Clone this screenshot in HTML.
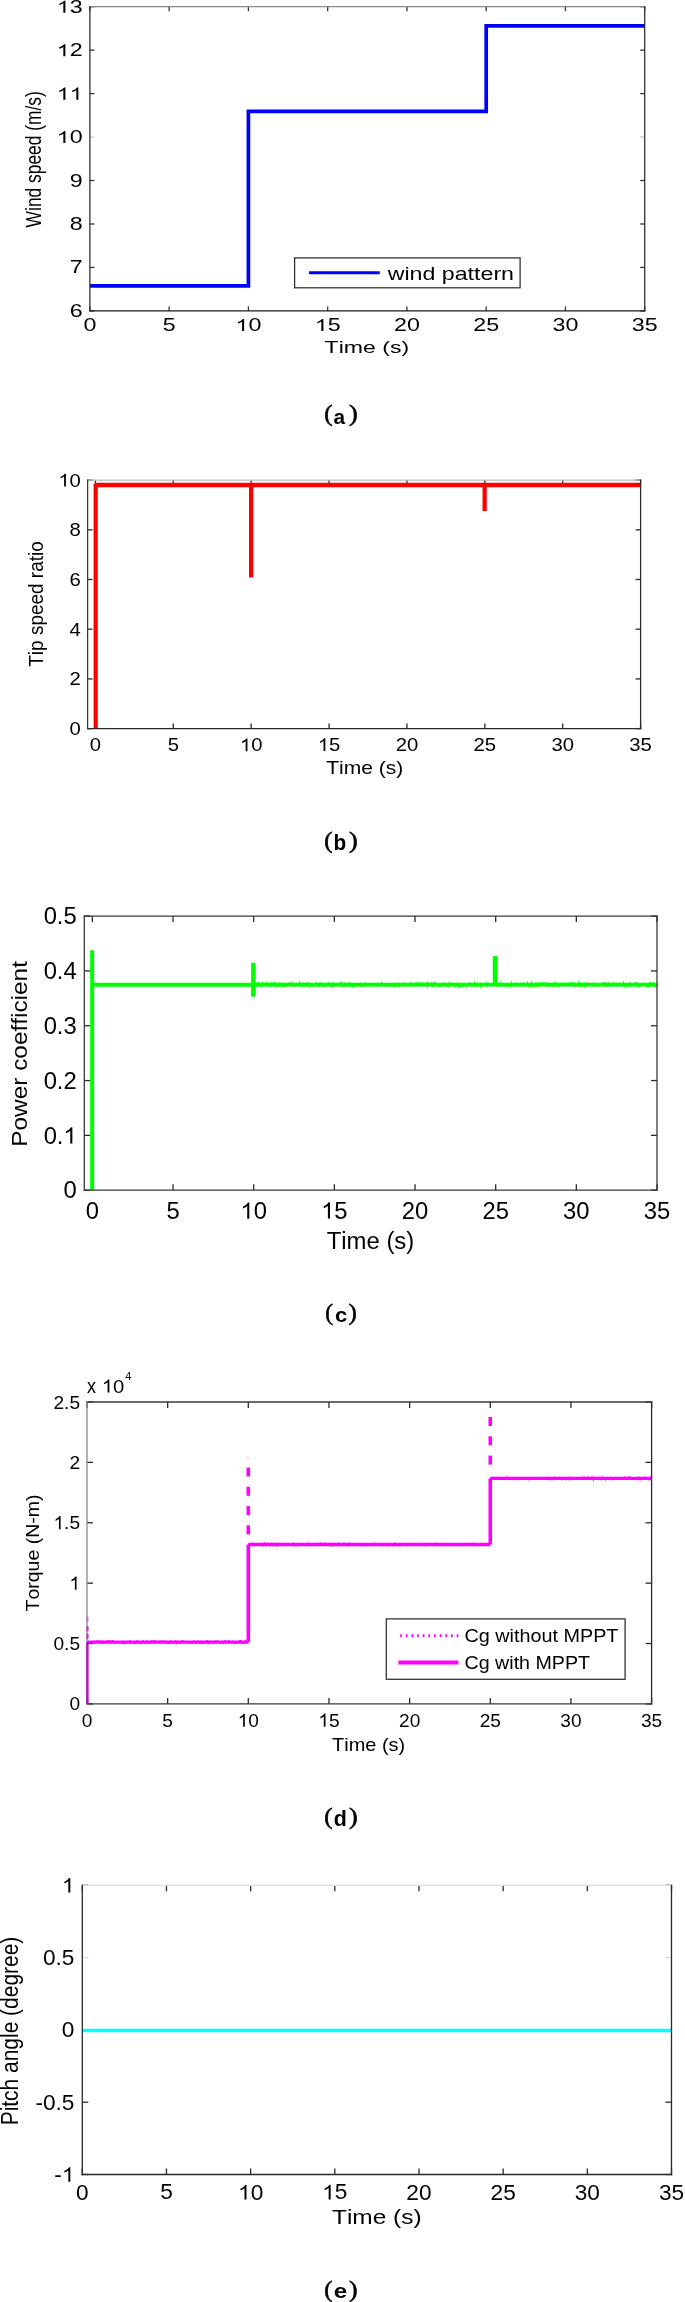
<!DOCTYPE html>
<html><head><meta charset="utf-8"><style>
html,body{margin:0;padding:0;background:#fff;}
body{width:685px;height:2302px;overflow:hidden;font-family:"Liberation Sans",sans-serif;}
svg{display:block;will-change:transform;}
text{font-kerning:none;}
</style></head><body>
<svg width="685" height="2302" viewBox="0 0 685 2302">
<g>
<line x1="89.9" y1="310.9" x2="89.9" y2="306.4" stroke="#333" stroke-width="1.3"/>
<line x1="89.9" y1="6.7" x2="89.9" y2="11.2" stroke="#333" stroke-width="1.3"/>
<line x1="169.16" y1="310.9" x2="169.16" y2="306.4" stroke="#333" stroke-width="1.3"/>
<line x1="169.16" y1="6.7" x2="169.16" y2="11.2" stroke="#333" stroke-width="1.3"/>
<line x1="248.41" y1="310.9" x2="248.41" y2="306.4" stroke="#333" stroke-width="1.3"/>
<line x1="248.41" y1="6.7" x2="248.41" y2="11.2" stroke="#333" stroke-width="1.3"/>
<line x1="327.67" y1="310.9" x2="327.67" y2="306.4" stroke="#333" stroke-width="1.3"/>
<line x1="327.67" y1="6.7" x2="327.67" y2="11.2" stroke="#333" stroke-width="1.3"/>
<line x1="406.93" y1="310.9" x2="406.93" y2="306.4" stroke="#333" stroke-width="1.3"/>
<line x1="406.93" y1="6.7" x2="406.93" y2="11.2" stroke="#333" stroke-width="1.3"/>
<line x1="486.19" y1="310.9" x2="486.19" y2="306.4" stroke="#333" stroke-width="1.3"/>
<line x1="486.19" y1="6.7" x2="486.19" y2="11.2" stroke="#333" stroke-width="1.3"/>
<line x1="565.44" y1="310.9" x2="565.44" y2="306.4" stroke="#333" stroke-width="1.3"/>
<line x1="565.44" y1="6.7" x2="565.44" y2="11.2" stroke="#333" stroke-width="1.3"/>
<line x1="644.7" y1="310.9" x2="644.7" y2="306.4" stroke="#333" stroke-width="1.3"/>
<line x1="644.7" y1="6.7" x2="644.7" y2="11.2" stroke="#333" stroke-width="1.3"/>
<line x1="89.9" y1="310.9" x2="94.4" y2="310.9" stroke="#333" stroke-width="1.3"/>
<line x1="644.7" y1="310.9" x2="640.2" y2="310.9" stroke="#333" stroke-width="1.3"/>
<line x1="89.9" y1="267.44" x2="94.4" y2="267.44" stroke="#333" stroke-width="1.3"/>
<line x1="644.7" y1="267.44" x2="640.2" y2="267.44" stroke="#333" stroke-width="1.3"/>
<line x1="89.9" y1="223.99" x2="94.4" y2="223.99" stroke="#333" stroke-width="1.3"/>
<line x1="644.7" y1="223.99" x2="640.2" y2="223.99" stroke="#333" stroke-width="1.3"/>
<line x1="89.9" y1="180.53" x2="94.4" y2="180.53" stroke="#333" stroke-width="1.3"/>
<line x1="644.7" y1="180.53" x2="640.2" y2="180.53" stroke="#333" stroke-width="1.3"/>
<line x1="89.9" y1="137.07" x2="94.4" y2="137.07" stroke="#c8c8c8" stroke-width="1.3"/>
<line x1="644.7" y1="137.07" x2="640.2" y2="137.07" stroke="#c8c8c8" stroke-width="1.3"/>
<line x1="89.9" y1="93.61" x2="94.4" y2="93.61" stroke="#333" stroke-width="1.3"/>
<line x1="644.7" y1="93.61" x2="640.2" y2="93.61" stroke="#333" stroke-width="1.3"/>
<line x1="89.9" y1="50.16" x2="94.4" y2="50.16" stroke="#333" stroke-width="1.3"/>
<line x1="644.7" y1="50.16" x2="640.2" y2="50.16" stroke="#333" stroke-width="1.3"/>
<line x1="89.9" y1="6.7" x2="94.4" y2="6.7" stroke="#333" stroke-width="1.3"/>
<line x1="644.7" y1="6.7" x2="640.2" y2="6.7" stroke="#333" stroke-width="1.3"/>
<path d="M89.9,285.91 H248.41 V111.43 H486.19 V25.82 H644.7" fill="none" stroke="#0000ff" stroke-width="3.7" stroke-linejoin="miter"/>
<line x1="89.9" y1="6.7" x2="644.7" y2="6.7" stroke="#888" stroke-width="1.3" stroke-linecap="square"/>
<line x1="644.7" y1="6.7" x2="644.7" y2="310.9" stroke="#333" stroke-width="1.3" stroke-linecap="square"/>
<line x1="89.9" y1="310.9" x2="644.7" y2="310.9" stroke="#1c1c1c" stroke-width="1.3" stroke-linecap="square"/>
<line x1="89.9" y1="6.7" x2="89.9" y2="310.9" stroke="#333" stroke-width="1.3" stroke-linecap="square"/>
<g transform="matrix(1.3300 0 0 1.0000 69.66 316.92)"><text font-family='"Liberation Sans", sans-serif' font-weight="normal" font-size="17.5" fill="#000">6</text></g>
<g transform="matrix(1.3300 0 0 1.0000 69.66 273.46)"><text font-family='"Liberation Sans", sans-serif' font-weight="normal" font-size="17.5" fill="#000">7</text></g>
<g transform="matrix(1.3300 0 0 1.0000 69.66 230.01)"><text font-family='"Liberation Sans", sans-serif' font-weight="normal" font-size="17.5" fill="#000">8</text></g>
<g transform="matrix(1.3300 0 0 1.0000 69.66 186.55)"><text font-family='"Liberation Sans", sans-serif' font-weight="normal" font-size="17.5" fill="#000">9</text></g>
<g transform="matrix(1.3300 0 0 1.0000 56.72 143.1)"><text font-family='"Liberation Sans", sans-serif' font-weight="normal" font-size="17.5" fill="#000"> 0</text><path transform="matrix(0.00854 0 0 -0.00818 0 0)" d="M763 0H583V1147Q518 1085 412 1023Q306 961 222 930V1104Q373 1175 486 1276Q599 1377 646 1472H763Z" fill="#000"/></g>
<g transform="matrix(1.3300 0 0 1.0000 56.72 99.63)"><text font-family='"Liberation Sans", sans-serif' font-weight="normal" font-size="17.5" fill="#000">  </text><path transform="matrix(0.00854 0 0 -0.00818 0 0)" d="M763 0H583V1147Q518 1085 412 1023Q306 961 222 930V1104Q373 1175 486 1276Q599 1377 646 1472H763Z" fill="#000"/><path transform="matrix(0.00854 0 0 -0.00818 9.73 0)" d="M763 0H583V1147Q518 1085 412 1023Q306 961 222 930V1104Q373 1175 486 1276Q599 1377 646 1472H763Z" fill="#000"/></g>
<g transform="matrix(1.3300 0 0 1.0000 56.72 56.27)"><text font-family='"Liberation Sans", sans-serif' font-weight="normal" font-size="17.5" fill="#000"> 2</text><path transform="matrix(0.00854 0 0 -0.00818 0 0)" d="M763 0H583V1147Q518 1085 412 1023Q306 961 222 930V1104Q373 1175 486 1276Q599 1377 646 1472H763Z" fill="#000"/></g>
<g transform="matrix(1.3300 0 0 1.0000 56.72 12.72)"><text font-family='"Liberation Sans", sans-serif' font-weight="normal" font-size="17.5" fill="#000"> 3</text><path transform="matrix(0.00854 0 0 -0.00818 0 0)" d="M763 0H583V1147Q518 1085 412 1023Q306 961 222 930V1104Q373 1175 486 1276Q599 1377 646 1472H763Z" fill="#000"/></g>
<g transform="matrix(1.3300 0 0 1.0000 83.43 331.12)"><text font-family='"Liberation Sans", sans-serif' font-weight="normal" font-size="17.5" fill="#000">0</text></g>
<g transform="matrix(1.3300 0 0 1.0000 162.68 330.94)"><text font-family='"Liberation Sans", sans-serif' font-weight="normal" font-size="17.5" fill="#000">5</text></g>
<g transform="matrix(1.3300 0 0 1.0000 235.47 331.12)"><text font-family='"Liberation Sans", sans-serif' font-weight="normal" font-size="17.5" fill="#000"> 0</text><path transform="matrix(0.00854 0 0 -0.00818 0 0)" d="M763 0H583V1147Q518 1085 412 1023Q306 961 222 930V1104Q373 1175 486 1276Q599 1377 646 1472H763Z" fill="#000"/></g>
<g transform="matrix(1.3300 0 0 1.0000 314.73 330.94)"><text font-family='"Liberation Sans", sans-serif' font-weight="normal" font-size="17.5" fill="#000"> 5</text><path transform="matrix(0.00854 0 0 -0.00818 0 0)" d="M763 0H583V1147Q518 1085 412 1023Q306 961 222 930V1104Q373 1175 486 1276Q599 1377 646 1472H763Z" fill="#000"/></g>
<g transform="matrix(1.3300 0 0 1.0000 393.98 331.12)"><text font-family='"Liberation Sans", sans-serif' font-weight="normal" font-size="17.5" fill="#000">20</text></g>
<g transform="matrix(1.3300 0 0 1.0000 473.24 331.12)"><text font-family='"Liberation Sans", sans-serif' font-weight="normal" font-size="17.5" fill="#000">25</text></g>
<g transform="matrix(1.3300 0 0 1.0000 552.5 331.12)"><text font-family='"Liberation Sans", sans-serif' font-weight="normal" font-size="17.5" fill="#000">30</text></g>
<g transform="matrix(1.3300 0 0 1.0000 631.76 331.12)"><text font-family='"Liberation Sans", sans-serif' font-weight="normal" font-size="17.5" fill="#000">35</text></g>
<rect x="294.6" y="257.9" width="225.5" height="29.9" fill="#fff" stroke="#333" stroke-width="1.3"/>
<line x1="309" y1="272.8" x2="379.8" y2="272.8" stroke="#0000ff" stroke-width="3"/>
<g transform="matrix(0.23216 0.00000 0.00000 0.18023 387.63 279.66)"><text font-family='"Liberation Sans", sans-serif' font-weight="normal" font-size="100" fill="#000">wind pattern</text></g>
<g transform="matrix(0.23091 0.00000 0.00000 0.16745 324.58 353.03)"><text font-family='"Liberation Sans", sans-serif' font-weight="normal" font-size="100" fill="#000">Time (s)</text></g>
<g transform="matrix(0.00000 -0.17390 0.22958 0.00000 41.44 227.38)"><text font-family='"Liberation Sans", sans-serif' font-weight="normal" font-size="100" fill="#000">Wind speed (m/s)</text></g>
<line x1="95.39" y1="728.6" x2="95.39" y2="723.6" stroke="#2a2a2a" stroke-width="1.3"/>
<line x1="95.39" y1="480.1" x2="95.39" y2="485.1" stroke="#2a2a2a" stroke-width="1.3"/>
<line x1="173.28" y1="728.6" x2="173.28" y2="723.6" stroke="#2a2a2a" stroke-width="1.3"/>
<line x1="173.28" y1="480.1" x2="173.28" y2="485.1" stroke="#2a2a2a" stroke-width="1.3"/>
<line x1="251.16" y1="728.6" x2="251.16" y2="723.6" stroke="#2a2a2a" stroke-width="1.3"/>
<line x1="251.16" y1="480.1" x2="251.16" y2="485.1" stroke="#2a2a2a" stroke-width="1.3"/>
<line x1="329.05" y1="728.6" x2="329.05" y2="723.6" stroke="#2a2a2a" stroke-width="1.3"/>
<line x1="329.05" y1="480.1" x2="329.05" y2="485.1" stroke="#2a2a2a" stroke-width="1.3"/>
<line x1="406.94" y1="728.6" x2="406.94" y2="723.6" stroke="#2a2a2a" stroke-width="1.3"/>
<line x1="406.94" y1="480.1" x2="406.94" y2="485.1" stroke="#2a2a2a" stroke-width="1.3"/>
<line x1="484.83" y1="728.6" x2="484.83" y2="723.6" stroke="#2a2a2a" stroke-width="1.3"/>
<line x1="484.83" y1="480.1" x2="484.83" y2="485.1" stroke="#2a2a2a" stroke-width="1.3"/>
<line x1="562.71" y1="728.6" x2="562.71" y2="723.6" stroke="#2a2a2a" stroke-width="1.3"/>
<line x1="562.71" y1="480.1" x2="562.71" y2="485.1" stroke="#2a2a2a" stroke-width="1.3"/>
<line x1="640.6" y1="728.6" x2="640.6" y2="723.6" stroke="#2a2a2a" stroke-width="1.3"/>
<line x1="640.6" y1="480.1" x2="640.6" y2="485.1" stroke="#2a2a2a" stroke-width="1.3"/>
<line x1="87.6" y1="728.6" x2="92.6" y2="728.6" stroke="#2a2a2a" stroke-width="1.3"/>
<line x1="640.6" y1="728.6" x2="635.6" y2="728.6" stroke="#2a2a2a" stroke-width="1.3"/>
<line x1="87.6" y1="678.9" x2="92.6" y2="678.9" stroke="#2a2a2a" stroke-width="1.3"/>
<line x1="640.6" y1="678.9" x2="635.6" y2="678.9" stroke="#2a2a2a" stroke-width="1.3"/>
<line x1="87.6" y1="629.2" x2="92.6" y2="629.2" stroke="#2a2a2a" stroke-width="1.3"/>
<line x1="640.6" y1="629.2" x2="635.6" y2="629.2" stroke="#2a2a2a" stroke-width="1.3"/>
<line x1="87.6" y1="579.5" x2="92.6" y2="579.5" stroke="#2a2a2a" stroke-width="1.3"/>
<line x1="640.6" y1="579.5" x2="635.6" y2="579.5" stroke="#2a2a2a" stroke-width="1.3"/>
<line x1="87.6" y1="529.8" x2="92.6" y2="529.8" stroke="#2a2a2a" stroke-width="1.3"/>
<line x1="640.6" y1="529.8" x2="635.6" y2="529.8" stroke="#2a2a2a" stroke-width="1.3"/>
<line x1="87.6" y1="480.1" x2="92.6" y2="480.1" stroke="#2a2a2a" stroke-width="1.3"/>
<line x1="640.6" y1="480.1" x2="635.6" y2="480.1" stroke="#2a2a2a" stroke-width="1.3"/>
<path d="M95.7,728.6 V483.69" fill="none" stroke="#ff0000" stroke-width="4.2"/>
<path d="M95.39,485.05 H640.6" fill="none" stroke="#ff0000" stroke-width="4.4"/>
<path d="M251.16,485.69 V577.51" fill="none" stroke="#ff0000" stroke-width="4.3"/>
<path d="M484.63,485.69 V511.04" fill="none" stroke="#ff0000" stroke-width="4.2"/>
<line x1="87.6" y1="480.1" x2="640.6" y2="480.1" stroke="#bbb" stroke-width="1.3" stroke-linecap="square"/>
<line x1="640.6" y1="480.1" x2="640.6" y2="728.6" stroke="#2a2a2a" stroke-width="1.3" stroke-linecap="square"/>
<line x1="87.6" y1="728.6" x2="640.6" y2="728.6" stroke="#2a2a2a" stroke-width="1.3" stroke-linecap="square"/>
<line x1="87.6" y1="480.1" x2="87.6" y2="728.6" stroke="#3a3a3a" stroke-width="1.3" stroke-linecap="square"/>
<g transform="matrix(1.0900 0 0 1.0000 69.62 735)"><text font-family='"Liberation Sans", sans-serif' font-weight="normal" font-size="18.6" fill="#000">0</text></g>
<g transform="matrix(1.0900 0 0 1.0000 69.62 685.39)"><text font-family='"Liberation Sans", sans-serif' font-weight="normal" font-size="18.6" fill="#000">2</text></g>
<g transform="matrix(1.0900 0 0 1.0000 69.62 635.6)"><text font-family='"Liberation Sans", sans-serif' font-weight="normal" font-size="18.6" fill="#000">4</text></g>
<g transform="matrix(1.0900 0 0 1.0000 69.62 585.9)"><text font-family='"Liberation Sans", sans-serif' font-weight="normal" font-size="18.6" fill="#000">6</text></g>
<g transform="matrix(1.0900 0 0 1.0000 69.62 536.2)"><text font-family='"Liberation Sans", sans-serif' font-weight="normal" font-size="18.6" fill="#000">8</text></g>
<g transform="matrix(1.0900 0 0 1.0000 58.34 486.5)"><text font-family='"Liberation Sans", sans-serif' font-weight="normal" font-size="18.6" fill="#000"> 0</text><path transform="matrix(0.00908 0 0 -0.00869 0 0)" d="M763 0H583V1147Q518 1085 412 1023Q306 961 222 930V1104Q373 1175 486 1276Q599 1377 646 1472H763Z" fill="#000"/></g>
<g transform="matrix(1.0900 0 0 1.0000 89.75 751.19)"><text font-family='"Liberation Sans", sans-serif' font-weight="normal" font-size="18.6" fill="#000">0</text></g>
<g transform="matrix(1.0900 0 0 1.0000 167.64 751)"><text font-family='"Liberation Sans", sans-serif' font-weight="normal" font-size="18.6" fill="#000">5</text></g>
<g transform="matrix(1.0900 0 0 1.0000 239.89 751.19)"><text font-family='"Liberation Sans", sans-serif' font-weight="normal" font-size="18.6" fill="#000"> 0</text><path transform="matrix(0.00908 0 0 -0.00869 0 0)" d="M763 0H583V1147Q518 1085 412 1023Q306 961 222 930V1104Q373 1175 486 1276Q599 1377 646 1472H763Z" fill="#000"/></g>
<g transform="matrix(1.0900 0 0 1.0000 317.78 751)"><text font-family='"Liberation Sans", sans-serif' font-weight="normal" font-size="18.6" fill="#000"> 5</text><path transform="matrix(0.00908 0 0 -0.00869 0 0)" d="M763 0H583V1147Q518 1085 412 1023Q306 961 222 930V1104Q373 1175 486 1276Q599 1377 646 1472H763Z" fill="#000"/></g>
<g transform="matrix(1.0900 0 0 1.0000 395.66 751.19)"><text font-family='"Liberation Sans", sans-serif' font-weight="normal" font-size="18.6" fill="#000">20</text></g>
<g transform="matrix(1.0900 0 0 1.0000 473.55 751.19)"><text font-family='"Liberation Sans", sans-serif' font-weight="normal" font-size="18.6" fill="#000">25</text></g>
<g transform="matrix(1.0900 0 0 1.0000 551.44 751.19)"><text font-family='"Liberation Sans", sans-serif' font-weight="normal" font-size="18.6" fill="#000">30</text></g>
<g transform="matrix(1.0900 0 0 1.0000 629.32 751.19)"><text font-family='"Liberation Sans", sans-serif' font-weight="normal" font-size="18.6" fill="#000">35</text></g>
<g transform="matrix(0.21052 0.00000 0.00000 0.17496 326.13 773.78)"><text font-family='"Liberation Sans", sans-serif' font-weight="normal" font-size="100" fill="#000">Time (s)</text></g>
<g transform="matrix(0.00000 -0.18976 0.19954 0.00000 43.26 666.73)"><text font-family='"Liberation Sans", sans-serif' font-weight="normal" font-size="100" fill="#000">Tip speed ratio</text></g>
<line x1="92.37" y1="1190.2" x2="92.37" y2="1184.2" stroke="#2a2a2a" stroke-width="1.3"/>
<line x1="92.37" y1="916.1" x2="92.37" y2="922.1" stroke="#2a2a2a" stroke-width="1.3"/>
<line x1="173.03" y1="1190.2" x2="173.03" y2="1184.2" stroke="#2a2a2a" stroke-width="1.3"/>
<line x1="173.03" y1="916.1" x2="173.03" y2="922.1" stroke="#2a2a2a" stroke-width="1.3"/>
<line x1="253.69" y1="1190.2" x2="253.69" y2="1184.2" stroke="#2a2a2a" stroke-width="1.3"/>
<line x1="253.69" y1="916.1" x2="253.69" y2="922.1" stroke="#2a2a2a" stroke-width="1.3"/>
<line x1="334.35" y1="1190.2" x2="334.35" y2="1184.2" stroke="#2a2a2a" stroke-width="1.3"/>
<line x1="334.35" y1="916.1" x2="334.35" y2="922.1" stroke="#2a2a2a" stroke-width="1.3"/>
<line x1="415.01" y1="1190.2" x2="415.01" y2="1184.2" stroke="#2a2a2a" stroke-width="1.3"/>
<line x1="415.01" y1="916.1" x2="415.01" y2="922.1" stroke="#2a2a2a" stroke-width="1.3"/>
<line x1="495.68" y1="1190.2" x2="495.68" y2="1184.2" stroke="#2a2a2a" stroke-width="1.3"/>
<line x1="495.68" y1="916.1" x2="495.68" y2="922.1" stroke="#2a2a2a" stroke-width="1.3"/>
<line x1="576.34" y1="1190.2" x2="576.34" y2="1184.2" stroke="#2a2a2a" stroke-width="1.3"/>
<line x1="576.34" y1="916.1" x2="576.34" y2="922.1" stroke="#2a2a2a" stroke-width="1.3"/>
<line x1="657" y1="1190.2" x2="657" y2="1184.2" stroke="#2a2a2a" stroke-width="1.3"/>
<line x1="657" y1="916.1" x2="657" y2="922.1" stroke="#2a2a2a" stroke-width="1.3"/>
<line x1="84.3" y1="1190.2" x2="90.3" y2="1190.2" stroke="#2a2a2a" stroke-width="1.3"/>
<line x1="657" y1="1190.2" x2="651" y2="1190.2" stroke="#2a2a2a" stroke-width="1.3"/>
<line x1="84.3" y1="1135.38" x2="90.3" y2="1135.38" stroke="#2a2a2a" stroke-width="1.3"/>
<line x1="657" y1="1135.38" x2="651" y2="1135.38" stroke="#2a2a2a" stroke-width="1.3"/>
<line x1="84.3" y1="1080.56" x2="90.3" y2="1080.56" stroke="#2a2a2a" stroke-width="1.3"/>
<line x1="657" y1="1080.56" x2="651" y2="1080.56" stroke="#2a2a2a" stroke-width="1.3"/>
<line x1="84.3" y1="1025.74" x2="90.3" y2="1025.74" stroke="#2a2a2a" stroke-width="1.3"/>
<line x1="657" y1="1025.74" x2="651" y2="1025.74" stroke="#2a2a2a" stroke-width="1.3"/>
<line x1="84.3" y1="970.92" x2="90.3" y2="970.92" stroke="#2a2a2a" stroke-width="1.3"/>
<line x1="657" y1="970.92" x2="651" y2="970.92" stroke="#2a2a2a" stroke-width="1.3"/>
<line x1="84.3" y1="916.1" x2="90.3" y2="916.1" stroke="#2a2a2a" stroke-width="1.3"/>
<line x1="657" y1="916.1" x2="651" y2="916.1" stroke="#2a2a2a" stroke-width="1.3"/>
<path d="M92.17,1190.2 V950.36" fill="none" stroke="#00ff00" stroke-width="4"/>
<path d="M92.37,984.8 H253.69" fill="none" stroke="#00ff00" stroke-width="3.9"/>
<path d="M253.69,984.62 H657" fill="none" stroke="#00ff00" stroke-width="3.6"/>
<path d="M253.69,985.12 L254.49,985.59 L255.29,985.81 L256.09,986.39 L256.89,985.58 L257.69,986.31 L258.49,982.74 L259.29,984.49 L260.09,986.4 L260.89,985.22 L261.69,986.23 L262.49,983.08 L263.29,984.5 L264.09,983.61 L264.89,984.8 L265.69,984.92 L266.49,982.68 L267.29,983.49 L268.09,983.74 L268.89,986.29 L269.69,985.69 L270.49,983.26 L271.29,985.81 L272.1,983.18 L272.9,985.09 L273.7,983.13 L274.5,982.63 L275.3,986.11 L276.1,983.46 L276.9,983.49 L277.7,986.55 L278.5,986.11 L279.3,983.78 L280.1,986.47 L280.9,984.78 L281.7,985.34 L282.5,983.44 L283.3,986.39 L284.1,985.39 L284.9,986.49 L285.7,986.2 L286.5,983.82 L287.3,984.07 L288.1,983.29 L288.9,983.21 L289.7,982.89 L290.5,983.83 L291.3,985.04 L292.1,982.64 L292.9,985.34 L293.7,983.98 L294.5,983.86 L295.3,985.9 L296.1,984.55 L296.9,983.89 L297.7,984.55 L298.5,985.44 L299.3,982.85 L300.1,986.53 L300.9,982.72 L301.7,985.62 L302.5,986 L303.3,982.7 L304.1,985.78 L304.9,984.09 L305.7,984.94 L306.5,982.66 L307.3,982.81 L308.1,983.35 L308.91,986.45 L309.71,983.41 L310.51,985.65 L311.31,986.34 L312.11,986.39 L312.91,984 L313.71,984.04 L314.51,984.72 L315.31,985.73 L316.11,983.06 L316.91,985.62 L317.71,985.81 L318.51,986.06 L319.31,982.77 L320.11,986.41 L320.91,982.99 L321.71,983.99 L322.51,985.07 L323.31,986.3 L324.11,983.98 L324.91,986.32 L325.71,984.81 L326.51,983.87 L327.31,983.89 L328.11,983.33 L328.91,982.94 L329.71,983.22 L330.51,985.38 L331.31,986.61 L332.11,983.27 L332.91,982.82 L333.71,986.57 L334.51,984.76 L335.31,984.25 L336.11,983.57 L336.91,985 L337.71,985.93 L338.51,984.45 L339.31,984.31 L340.11,982.85 L340.91,986.29 L341.71,982.76 L342.51,984.6 L343.31,985.98 L344.11,983.15 L344.91,985.55 L345.72,986.42 L346.52,985.15 L347.32,985.78 L348.12,983.05 L348.92,984.36 L349.72,983.22 L350.52,986 L351.32,983.8 L352.12,984.44 L352.92,986.62 L353.72,986.03 L354.52,986.53 L355.32,984.44 L356.12,984.58 L356.92,985.54 L357.72,984.54 L358.52,983.79 L359.32,984.24 L360.12,983.21 L360.92,984.13 L361.72,986.58 L362.52,986.46 L363.32,985.13 L364.12,984.62 L364.92,983.98 L365.72,982.98 L366.52,983.71 L367.32,985.75 L368.12,986.09 L368.92,984.07 L369.72,985.77 L370.52,985.72 L371.32,985.4 L372.12,985.28 L372.92,985.66 L373.72,984.08 L374.52,985.44 L375.32,983.75 L376.12,984.57 L376.92,985.7 L377.72,985.39 L378.52,983.8 L379.32,986.41 L380.12,985.22 L380.92,984.95 L381.73,982.67 L382.53,984.81 L383.33,983.63 L384.13,985.31 L384.93,984.48 L385.73,985.89 L386.53,985.21 L387.33,985.82 L388.13,984.02 L388.93,985.2 L389.73,985.58 L390.53,985.94 L391.33,984.03 L392.13,986 L392.93,986.1 L393.73,985.38 L394.53,986.53 L395.33,986.45 L396.13,984.7 L396.93,984.74 L397.73,983.29 L398.53,985.97 L399.33,986.37 L400.13,984.53 L400.93,985.39 L401.73,985.5 L402.53,985.55 L403.33,983.31 L404.13,985.75 L404.93,984.95 L405.73,985.29 L406.53,984.31 L407.33,985.12 L408.13,985.72 L408.93,985.17 L409.73,985.51 L410.53,982.74 L411.33,983.27 L412.13,984.39 L412.93,985.23 L413.73,983.5 L414.53,985.37 L415.33,985.15 L416.13,982.79 L416.93,984.51 L417.73,983.53 L418.54,982.84 L419.34,983.16 L420.14,983.89 L420.94,983.35 L421.74,983.4 L422.54,982.77 L423.34,984.49 L424.14,984.15 L424.94,985.07 L425.74,984.99 L426.54,983.58 L427.34,986.24 L428.14,982.63 L428.94,984.25 L429.74,983.74 L430.54,984.27 L431.34,983.09 L432.14,985.95 L432.94,984.12 L433.74,982.77 L434.54,985.08 L435.34,983 L436.14,984.81 L436.94,983.98 L437.74,984.95 L438.54,986.46 L439.34,985.9 L440.14,984.3 L440.94,985.88 L441.74,985.19 L442.54,984.1 L443.34,983.19 L444.14,985.01 L444.94,984.88 L445.74,986.45 L446.54,986.5 L447.34,985.06 L448.14,984.03 L448.94,986.2 L449.74,982.63 L450.54,983.06 L451.34,984.89 L452.14,985.09 L452.94,983.19 L453.74,985.14 L454.54,986.19 L455.35,984.13 L456.15,984.35 L456.95,983.53 L457.75,983.79 L458.55,986.51 L459.35,984.14 L460.15,986.47 L460.95,986.28 L461.75,985.01 L462.55,983.66 L463.35,986.55 L464.15,984.61 L464.95,984.29 L465.75,983.9 L466.55,986.56 L467.35,984.59 L468.15,983.77 L468.95,984.53 L469.75,983.11 L470.55,985.11 L471.35,984.4 L472.15,983.8 L472.95,985.75 L473.75,985.93 L474.55,982.68 L475.35,984.76 L476.15,983.72 L476.95,986.37 L477.75,985.75 L478.55,983.61 L479.35,983.7 L480.15,983.24 L480.95,986.58 L481.75,983.8 L482.55,985.06 L483.35,984.52 L484.15,985.2 L484.95,985.04 L485.75,985.6 L486.55,983.1 L487.35,985.67 L488.15,983.83 L488.95,984.76 L489.75,983.97 L490.55,983.81 L491.35,984.74 L492.16,984.48 L492.96,984.07 L493.76,985.61 L494.56,984.99 L495.36,982.77 L496.16,983.63 L496.96,984.45 L497.76,986.29 L498.56,986.18 L499.36,984.81 L500.16,982.68 L500.96,985.74 L501.76,984.34 L502.56,984.93 L503.36,985.46 L504.16,985.15 L504.96,984.55 L505.76,986.27 L506.56,984.17 L507.36,984.19 L508.16,986.03 L508.96,983.41 L509.76,983.81 L510.56,985.95 L511.36,982.89 L512.16,985.97 L512.96,985.4 L513.76,984.36 L514.56,983.77 L515.36,985.75 L516.16,986.27 L516.96,983.2 L517.76,984.54 L518.56,984.82 L519.36,984.62 L520.16,983.95 L520.96,983.24 L521.76,984.97 L522.56,985.87 L523.36,982.9 L524.16,983.55 L524.96,985.9 L525.76,985.79 L526.56,985.28 L527.36,982.73 L528.16,985.52 L528.97,986.54 L529.77,986.62 L530.57,985.43 L531.37,982.82 L532.17,985.99 L532.97,983.5 L533.77,985.21 L534.57,986.43 L535.37,985.47 L536.17,983.16 L536.97,983.79 L537.77,986.3 L538.57,983.22 L539.37,985.07 L540.17,984.28 L540.97,983.27 L541.77,985.11 L542.57,982.8 L543.37,983.06 L544.17,984.14 L544.97,982.91 L545.77,982.86 L546.57,984.93 L547.37,985.59 L548.17,986.14 L548.97,983.16 L549.77,984.35 L550.57,983.88 L551.37,985.03 L552.17,984.58 L552.97,986.38 L553.77,984.12 L554.57,982.85 L555.37,985.41 L556.17,983.23 L556.97,985.15 L557.77,984.65 L558.57,986.27 L559.37,984.84 L560.17,985.11 L560.97,983.68 L561.77,984.83 L562.57,983.64 L563.37,985.63 L564.17,984.69 L564.97,983.16 L565.78,983.56 L566.58,984.11 L567.38,985.57 L568.18,983.34 L568.98,985.48 L569.78,985.25 L570.58,982.97 L571.38,985.3 L572.18,982.99 L572.98,983.12 L573.78,985 L574.58,983.58 L575.38,986.13 L576.18,984.55 L576.98,983.92 L577.78,985.81 L578.58,982.74 L579.38,985.53 L580.18,982.84 L580.98,983.23 L581.78,986.43 L582.58,985.35 L583.38,983.52 L584.18,983.09 L584.98,986.52 L585.78,985.29 L586.58,985.91 L587.38,983.18 L588.18,985.12 L588.98,984.04 L589.78,983.57 L590.58,983.96 L591.38,985.08 L592.18,984.02 L592.98,984.17 L593.78,983.17 L594.58,985.95 L595.38,985.22 L596.18,985.84 L596.98,984.36 L597.78,986.03 L598.58,984.69 L599.38,985 L600.18,984.92 L600.98,985.59 L601.78,984.21 L602.59,983.01 L603.39,982.76 L604.19,983.43 L604.99,982.78 L605.79,986.18 L606.59,984.55 L607.39,985.67 L608.19,982.63 L608.99,984.51 L609.79,986.18 L610.59,985.1 L611.39,984.34 L612.19,984.49 L612.99,983.02 L613.79,983.24 L614.59,983.26 L615.39,984.12 L616.19,984.17 L616.99,986.15 L617.79,983.23 L618.59,983.64 L619.39,983.73 L620.19,983.27 L620.99,983.77 L621.79,983.57 L622.59,984.55 L623.39,982.75 L624.19,986.32 L624.99,984.1 L625.79,986.38 L626.59,985.38 L627.39,985.32 L628.19,984.51 L628.99,986.41 L629.79,983.1 L630.59,985.3 L631.39,983.79 L632.19,985.32 L632.99,985.54 L633.79,983.28 L634.59,983.43 L635.39,982.72 L636.19,983.55 L636.99,982.94 L637.79,984.23 L638.59,986.52 L639.4,984.08 L640.2,983.87 L641,984.5 L641.8,983.76 L642.6,985.55 L643.4,985.5 L644.2,983.28 L645,983.59 L645.8,985.31 L646.6,986.39 L647.4,985.21 L648.2,984.35 L649,986.53 L649.8,982.65 L650.6,982.87 L651.4,985.74 L652.2,984.27 L653,982.8 L653.8,984.82 L654.6,986.58 L655.4,984.7 L656.2,984.03 L657,983" fill="none" stroke="#00ff00" stroke-width="1.3"/>
<path d="M253.37,996.69 V962.7" fill="none" stroke="#00ff00" stroke-width="4.5"/>
<path d="M495.28,984.62 V956.12" fill="none" stroke="#00ff00" stroke-width="5"/>
<line x1="84.3" y1="916.1" x2="657" y2="916.1" stroke="#3a3a3a" stroke-width="1.3" stroke-linecap="square"/>
<line x1="657" y1="916.1" x2="657" y2="1190.2" stroke="#3a3a3a" stroke-width="1.3" stroke-linecap="square"/>
<line x1="84.3" y1="1190.2" x2="657" y2="1190.2" stroke="#3a3a3a" stroke-width="1.3" stroke-linecap="square"/>
<line x1="84.3" y1="916.1" x2="84.3" y2="1190.2" stroke="#3a3a3a" stroke-width="1.3" stroke-linecap="square"/>
<g transform="matrix(1.0000 0 0 1.0000 63.49 1198.39)"><text font-family='"Liberation Sans", sans-serif' font-weight="normal" font-size="23.8" fill="#000">0</text></g>
<g transform="matrix(1.0000 0 0 1.0000 43.64 1143.57)"><text font-family='"Liberation Sans", sans-serif' font-weight="normal" font-size="23.8" fill="#000">0. </text><path transform="matrix(0.01162 0 0 -0.01112 19.85 0)" d="M763 0H583V1147Q518 1085 412 1023Q306 961 222 930V1104Q373 1175 486 1276Q599 1377 646 1472H763Z" fill="#000"/></g>
<g transform="matrix(1.0000 0 0 1.0000 43.64 1088.75)"><text font-family='"Liberation Sans", sans-serif' font-weight="normal" font-size="23.8" fill="#000">0.2</text></g>
<g transform="matrix(1.0000 0 0 1.0000 43.64 1033.93)"><text font-family='"Liberation Sans", sans-serif' font-weight="normal" font-size="23.8" fill="#000">0.3</text></g>
<g transform="matrix(1.0000 0 0 1.0000 43.64 979.11)"><text font-family='"Liberation Sans", sans-serif' font-weight="normal" font-size="23.8" fill="#000">0.4</text></g>
<g transform="matrix(1.0000 0 0 1.0000 43.64 924.29)"><text font-family='"Liberation Sans", sans-serif' font-weight="normal" font-size="23.8" fill="#000">0.5</text></g>
<g transform="matrix(1.0000 0 0 1.0000 85.75 1218.82)"><text font-family='"Liberation Sans", sans-serif' font-weight="normal" font-size="23.8" fill="#000">0</text></g>
<g transform="matrix(1.0000 0 0 1.0000 166.41 1218.57)"><text font-family='"Liberation Sans", sans-serif' font-weight="normal" font-size="23.8" fill="#000">5</text></g>
<g transform="matrix(1.0000 0 0 1.0000 240.45 1218.82)"><text font-family='"Liberation Sans", sans-serif' font-weight="normal" font-size="23.8" fill="#000"> 0</text><path transform="matrix(0.01162 0 0 -0.01112 0 0)" d="M763 0H583V1147Q518 1085 412 1023Q306 961 222 930V1104Q373 1175 486 1276Q599 1377 646 1472H763Z" fill="#000"/></g>
<g transform="matrix(1.0000 0 0 1.0000 321.12 1218.57)"><text font-family='"Liberation Sans", sans-serif' font-weight="normal" font-size="23.8" fill="#000"> 5</text><path transform="matrix(0.01162 0 0 -0.01112 0 0)" d="M763 0H583V1147Q518 1085 412 1023Q306 961 222 930V1104Q373 1175 486 1276Q599 1377 646 1472H763Z" fill="#000"/></g>
<g transform="matrix(1.0000 0 0 1.0000 401.78 1218.82)"><text font-family='"Liberation Sans", sans-serif' font-weight="normal" font-size="23.8" fill="#000">20</text></g>
<g transform="matrix(1.0000 0 0 1.0000 482.44 1218.82)"><text font-family='"Liberation Sans", sans-serif' font-weight="normal" font-size="23.8" fill="#000">25</text></g>
<g transform="matrix(1.0000 0 0 1.0000 563.1 1218.82)"><text font-family='"Liberation Sans", sans-serif' font-weight="normal" font-size="23.8" fill="#000">30</text></g>
<g transform="matrix(1.0000 0 0 1.0000 643.76 1218.82)"><text font-family='"Liberation Sans", sans-serif' font-weight="normal" font-size="23.8" fill="#000">35</text></g>
<g transform="matrix(0.23900 0.00000 0.00000 0.23829 326.66 1248.67)"><text font-family='"Liberation Sans", sans-serif' font-weight="normal" font-size="100" fill="#000">Time (s)</text></g>
<g transform="matrix(0.00000 -0.24397 0.21787 0.00000 27.49 1146.7)"><text font-family='"Liberation Sans", sans-serif' font-weight="normal" font-size="100" fill="#000">Power coefficient</text></g>
<line x1="87" y1="1703.9" x2="87" y2="1697.9" stroke="#2a2a2a" stroke-width="1.3"/>
<line x1="87" y1="1402" x2="87" y2="1408" stroke="#2a2a2a" stroke-width="1.3"/>
<line x1="167.66" y1="1703.9" x2="167.66" y2="1697.9" stroke="#2a2a2a" stroke-width="1.3"/>
<line x1="167.66" y1="1402" x2="167.66" y2="1408" stroke="#2a2a2a" stroke-width="1.3"/>
<line x1="248.31" y1="1703.9" x2="248.31" y2="1697.9" stroke="#2a2a2a" stroke-width="1.3"/>
<line x1="248.31" y1="1402" x2="248.31" y2="1408" stroke="#2a2a2a" stroke-width="1.3"/>
<line x1="328.97" y1="1703.9" x2="328.97" y2="1697.9" stroke="#2a2a2a" stroke-width="1.3"/>
<line x1="328.97" y1="1402" x2="328.97" y2="1408" stroke="#2a2a2a" stroke-width="1.3"/>
<line x1="409.63" y1="1703.9" x2="409.63" y2="1697.9" stroke="#2a2a2a" stroke-width="1.3"/>
<line x1="409.63" y1="1402" x2="409.63" y2="1408" stroke="#2a2a2a" stroke-width="1.3"/>
<line x1="490.29" y1="1703.9" x2="490.29" y2="1697.9" stroke="#2a2a2a" stroke-width="1.3"/>
<line x1="490.29" y1="1402" x2="490.29" y2="1408" stroke="#2a2a2a" stroke-width="1.3"/>
<line x1="570.94" y1="1703.9" x2="570.94" y2="1697.9" stroke="#2a2a2a" stroke-width="1.3"/>
<line x1="570.94" y1="1402" x2="570.94" y2="1408" stroke="#2a2a2a" stroke-width="1.3"/>
<line x1="651.6" y1="1703.9" x2="651.6" y2="1697.9" stroke="#2a2a2a" stroke-width="1.3"/>
<line x1="651.6" y1="1402" x2="651.6" y2="1408" stroke="#2a2a2a" stroke-width="1.3"/>
<line x1="87" y1="1703.9" x2="93" y2="1703.9" stroke="#2a2a2a" stroke-width="1.3"/>
<line x1="651.6" y1="1703.9" x2="645.6" y2="1703.9" stroke="#2a2a2a" stroke-width="1.3"/>
<line x1="87" y1="1643.52" x2="93" y2="1643.52" stroke="#2a2a2a" stroke-width="1.3"/>
<line x1="651.6" y1="1643.52" x2="645.6" y2="1643.52" stroke="#2a2a2a" stroke-width="1.3"/>
<line x1="87" y1="1583.14" x2="93" y2="1583.14" stroke="#2a2a2a" stroke-width="1.3"/>
<line x1="651.6" y1="1583.14" x2="645.6" y2="1583.14" stroke="#2a2a2a" stroke-width="1.3"/>
<line x1="87" y1="1522.76" x2="93" y2="1522.76" stroke="#2a2a2a" stroke-width="1.3"/>
<line x1="651.6" y1="1522.76" x2="645.6" y2="1522.76" stroke="#2a2a2a" stroke-width="1.3"/>
<line x1="87" y1="1462.38" x2="93" y2="1462.38" stroke="#2a2a2a" stroke-width="1.3"/>
<line x1="651.6" y1="1462.38" x2="645.6" y2="1462.38" stroke="#2a2a2a" stroke-width="1.3"/>
<line x1="87" y1="1402" x2="93" y2="1402" stroke="#2a2a2a" stroke-width="1.3"/>
<line x1="651.6" y1="1402" x2="645.6" y2="1402" stroke="#2a2a2a" stroke-width="1.3"/>
<path d="M87,1642.07 H248.31" fill="none" stroke="#ff00ff" stroke-width="3.3"/>
<path d="M87,1641.93 L88,1642.25 L89,1643.34 L90.01,1641.97 L91.01,1642.09 L92.01,1642.33 L93.01,1641.12 L94.01,1642.11 L95.02,1642.46 L96.02,1642.95 L97.02,1640.85 L98.02,1641.48 L99.02,1640.84 L100.03,1643 L101.03,1642.65 L102.03,1640.7 L103.03,1643.52 L104.03,1643.47 L105.04,1642.53 L106.04,1642.42 L107.04,1641.04 L108.04,1640.62 L109.04,1642.16 L110.04,1640.75 L111.05,1641.14 L112.05,1641.3 L113.05,1640.66 L114.05,1641.96 L115.05,1641.89 L116.06,1643.1 L117.06,1642.13 L118.06,1642.49 L119.06,1642.07 L120.06,1642.56 L121.07,1641.94 L122.07,1641.41 L123.07,1643.56 L124.07,1643.56 L125.07,1643.09 L126.08,1642.69 L127.08,1641.52 L128.08,1641.26 L129.08,1641.44 L130.08,1640.78 L131.09,1642.87 L132.09,1641.77 L133.09,1643.11 L134.09,1641.73 L135.09,1643.45 L136.1,1643.11 L137.1,1640.57 L138.1,1641.2 L139.1,1643.3 L140.1,1641.98 L141.11,1643.51 L142.11,1641.76 L143.11,1640.79 L144.11,1642.46 L145.11,1642.91 L146.12,1641.38 L147.12,1640.83 L148.12,1641.57 L149.12,1643.46 L150.12,1642.85 L151.12,1640.92 L152.13,1641.31 L153.13,1640.87 L154.13,1640.75 L155.13,1642.96 L156.13,1641.1 L157.14,1642.25 L158.14,1641.91 L159.14,1641.14 L160.14,1642.77 L161.14,1640.96 L162.15,1642.5 L163.15,1640.92 L164.15,1641.83 L165.15,1641.21 L166.15,1641.38 L167.16,1643.48 L168.16,1642.98 L169.16,1641.48 L170.16,1643.23 L171.16,1641.2 L172.17,1641.75 L173.17,1643.13 L174.17,1642.5 L175.17,1640.87 L176.17,1643.54 L177.18,1641.21 L178.18,1641.35 L179.18,1642.89 L180.18,1641.56 L181.18,1641.46 L182.19,1640.79 L183.19,1640.84 L184.19,1642.32 L185.19,1641.3 L186.19,1642.37 L187.2,1641.69 L188.2,1641.93 L189.2,1643.45 L190.2,1642.02 L191.2,1642.29 L192.2,1643.17 L193.21,1641.12 L194.21,1641.03 L195.21,1643.3 L196.21,1643.02 L197.21,1641.32 L198.22,1641.14 L199.22,1642.79 L200.22,1643.39 L201.22,1641.16 L202.22,1643.42 L203.23,1643.22 L204.23,1642.38 L205.23,1641.84 L206.23,1640.88 L207.23,1640.69 L208.24,1643.46 L209.24,1641.29 L210.24,1642.68 L211.24,1641.34 L212.24,1643.04 L213.25,1642.36 L214.25,1641.45 L215.25,1641.1 L216.25,1642.73 L217.25,1640.78 L218.26,1641.26 L219.26,1642.25 L220.26,1643.13 L221.26,1642.41 L222.26,1641.41 L223.27,1643.32 L224.27,1641.18 L225.27,1640.62 L226.27,1641.38 L227.27,1641.91 L228.28,1640.75 L229.28,1641.1 L230.28,1641.68 L231.28,1642.29 L232.28,1640.97 L233.29,1641.66 L234.29,1643.24 L235.29,1643.51 L236.29,1642.54 L237.29,1642.64 L238.29,1642.32 L239.3,1640.99 L240.3,1640.68 L241.3,1640.62 L242.3,1643.3 L243.3,1642.67 L244.31,1643.46 L245.31,1640.63 L246.31,1642.48 L247.31,1642.02 L248.31,1642.76" fill="none" stroke="#ff00ff" stroke-width="1.2"/>
<path d="M248.31,1544.5 H490.29" fill="none" stroke="#ff00ff" stroke-width="3.3"/>
<path d="M248.31,1544.42 L249.32,1544.97 L250.32,1545 L251.33,1543.42 L252.33,1543.03 L253.33,1544.12 L254.34,1543.82 L255.34,1545.43 L256.35,1545.07 L257.35,1544.8 L258.35,1544.67 L259.36,1544.98 L260.36,1543.43 L261.37,1544.32 L262.37,1543.48 L263.37,1545.71 L264.38,1543.17 L265.38,1545.45 L266.39,1543.22 L267.39,1545.06 L268.39,1544.01 L269.4,1544.21 L270.4,1545.52 L271.41,1543.05 L272.41,1543.18 L273.42,1545.74 L274.42,1544.52 L275.42,1543.27 L276.43,1545.96 L277.43,1545.84 L278.44,1543.33 L279.44,1544.27 L280.44,1543.4 L281.45,1543.93 L282.45,1544.86 L283.46,1543.49 L284.46,1545.09 L285.46,1543.15 L286.47,1543.51 L287.47,1545.44 L288.48,1544.2 L289.48,1544.25 L290.48,1544.78 L291.49,1544.43 L292.49,1544.15 L293.5,1543.09 L294.5,1545.18 L295.5,1545.9 L296.51,1545.93 L297.51,1544.99 L298.52,1544.07 L299.52,1544.09 L300.52,1545.07 L301.53,1545.02 L302.53,1543.34 L303.54,1543.7 L304.54,1544.09 L305.54,1544.53 L306.55,1545.43 L307.55,1544.5 L308.56,1543.08 L309.56,1545.46 L310.56,1544.29 L311.57,1544.55 L312.57,1543.66 L313.58,1544.28 L314.58,1544.16 L315.58,1545.31 L316.59,1543.3 L317.59,1544.65 L318.6,1543.53 L319.6,1545.08 L320.6,1543.11 L321.61,1543.83 L322.61,1544.03 L323.62,1544.91 L324.62,1543.15 L325.62,1544.37 L326.63,1543.62 L327.63,1543.84 L328.64,1544.43 L329.64,1545.87 L330.64,1544.44 L331.65,1545.86 L332.65,1543.5 L333.66,1545.77 L334.66,1544.09 L335.66,1543.56 L336.67,1545.24 L337.67,1545.73 L338.68,1543.02 L339.68,1543.8 L340.69,1545.31 L341.69,1544.02 L342.69,1543.72 L343.7,1543.02 L344.7,1543.12 L345.71,1544.85 L346.71,1545.95 L347.71,1545.99 L348.72,1544.51 L349.72,1543.07 L350.73,1543.96 L351.73,1545.36 L352.73,1545.49 L353.74,1544.92 L354.74,1543.69 L355.75,1544.58 L356.75,1544.43 L357.75,1544.88 L358.76,1543.78 L359.76,1545.84 L360.77,1545.68 L361.77,1543.48 L362.77,1543.87 L363.78,1545.62 L364.78,1543.83 L365.79,1545.83 L366.79,1544.54 L367.79,1545.08 L368.8,1545.11 L369.8,1543.64 L370.81,1543.85 L371.81,1543.76 L372.81,1545.05 L373.82,1545.08 L374.82,1543.39 L375.83,1545.66 L376.83,1544.26 L377.83,1543.72 L378.84,1544.3 L379.84,1545.94 L380.85,1544.68 L381.85,1544.87 L382.85,1545.76 L383.86,1545.88 L384.86,1545.28 L385.87,1544.25 L386.87,1544.76 L387.87,1545.7 L388.88,1545.36 L389.88,1544.74 L390.89,1544.04 L391.89,1544.1 L392.89,1545.2 L393.9,1544.69 L394.9,1543.05 L395.91,1545.13 L396.91,1545.71 L397.91,1545.39 L398.92,1545.69 L399.92,1545.73 L400.93,1544.6 L401.93,1545.36 L402.94,1544.14 L403.94,1543.29 L404.94,1544.06 L405.95,1543.93 L406.95,1545.8 L407.96,1545.06 L408.96,1544.62 L409.96,1544.86 L410.97,1543.37 L411.97,1544.6 L412.98,1545.1 L413.98,1544.18 L414.98,1543.73 L415.99,1544.22 L416.99,1543.97 L418,1545.05 L419,1543.42 L420,1543.27 L421.01,1543.93 L422.01,1545.08 L423.02,1545.28 L424.02,1544.97 L425.02,1545.8 L426.03,1544.09 L427.03,1543.09 L428.04,1544.46 L429.04,1544.33 L430.04,1543.53 L431.05,1545 L432.05,1544.02 L433.06,1543.71 L434.06,1543.98 L435.06,1545.83 L436.07,1543.02 L437.07,1544.08 L438.08,1543.84 L439.08,1543.6 L440.08,1544.29 L441.09,1543.66 L442.09,1545.75 L443.1,1544.5 L444.1,1545.09 L445.1,1543.48 L446.11,1544.39 L447.11,1544.82 L448.12,1545.53 L449.12,1543.75 L450.12,1544.38 L451.13,1545.56 L452.13,1545.49 L453.14,1543.68 L454.14,1544.61 L455.14,1545.28 L456.15,1544.18 L457.15,1545.02 L458.16,1544.99 L459.16,1545.91 L460.16,1544.66 L461.17,1545.04 L462.17,1544.05 L463.18,1545.19 L464.18,1543.96 L465.18,1544.5 L466.19,1544.08 L467.19,1543.92 L468.2,1543.4 L469.2,1543.67 L470.21,1544.63 L471.21,1543.75 L472.21,1543.13 L473.22,1545.41 L474.22,1543.85 L475.23,1545.81 L476.23,1544.79 L477.23,1544.16 L478.24,1545.62 L479.24,1545.69 L480.25,1543.96 L481.25,1543.37 L482.25,1544.92 L483.26,1545.52 L484.26,1544.82 L485.27,1545.35 L486.27,1544.23 L487.27,1544.85 L488.28,1543.79 L489.28,1544.22 L490.29,1544.14" fill="none" stroke="#ff00ff" stroke-width="1.2"/>
<path d="M490.29,1478.44 H651.6" fill="none" stroke="#ff00ff" stroke-width="3.3"/>
<path d="M490.29,1477.72 L491.29,1479 L492.29,1478.99 L493.29,1479.49 L494.29,1477.5 L495.3,1477.63 L496.3,1477.38 L497.3,1477.62 L498.3,1479.14 L499.3,1477.33 L500.31,1478.54 L501.31,1477.58 L502.31,1477.83 L503.31,1478.24 L504.31,1479.45 L505.31,1478.77 L506.32,1476.98 L507.32,1477.77 L508.32,1477.38 L509.32,1479.55 L510.32,1479.37 L511.33,1479.36 L512.33,1479.42 L513.33,1479.18 L514.33,1479.79 L515.33,1479.32 L516.34,1477.71 L517.34,1479.49 L518.34,1478.4 L519.34,1479.21 L520.34,1478.63 L521.35,1478.23 L522.35,1478.03 L523.35,1478.23 L524.35,1477.88 L525.35,1477.29 L526.36,1479.4 L527.36,1479.34 L528.36,1479.9 L529.36,1479.01 L530.36,1478.6 L531.37,1479.19 L532.37,1477.35 L533.37,1478.97 L534.37,1478.27 L535.37,1477.47 L536.38,1477.55 L537.38,1478.51 L538.38,1477.7 L539.38,1478.32 L540.38,1478.76 L541.39,1478.13 L542.39,1477.33 L543.39,1478.41 L544.39,1477.65 L545.39,1477.65 L546.4,1477.52 L547.4,1478.04 L548.4,1477.16 L549.4,1478.89 L550.4,1479.8 L551.4,1478.11 L552.41,1479.1 L553.41,1479.74 L554.41,1477.07 L555.41,1477.37 L556.41,1479.36 L557.42,1479.46 L558.42,1478.86 L559.42,1477.42 L560.42,1478.18 L561.42,1479.55 L562.43,1479.6 L563.43,1479.35 L564.43,1477.55 L565.43,1479.5 L566.43,1478.07 L567.44,1479.09 L568.44,1477.35 L569.44,1479.85 L570.44,1478.75 L571.44,1479.11 L572.45,1477.58 L573.45,1478.79 L574.45,1478.68 L575.45,1478.71 L576.45,1478.02 L577.46,1479.12 L578.46,1477.97 L579.46,1477.83 L580.46,1477.43 L581.46,1478.99 L582.47,1477.28 L583.47,1477.62 L584.47,1477.15 L585.47,1478.87 L586.47,1478.61 L587.48,1478.57 L588.48,1477.06 L589.48,1478.26 L590.48,1477.97 L591.48,1477.22 L592.48,1476.95 L593.49,1479.93 L594.49,1477.31 L595.49,1477.85 L596.49,1477.75 L597.49,1478.73 L598.5,1477.17 L599.5,1478.35 L600.5,1478.04 L601.5,1479.44 L602.5,1476.96 L603.51,1477.95 L604.51,1478.43 L605.51,1479.85 L606.51,1478.49 L607.51,1478.36 L608.52,1478.95 L609.52,1477.83 L610.52,1477.04 L611.52,1478.45 L612.52,1479.67 L613.53,1479.16 L614.53,1477.72 L615.53,1478.99 L616.53,1479.49 L617.53,1477.72 L618.54,1478.71 L619.54,1478.01 L620.54,1477.67 L621.54,1477.8 L622.54,1477.55 L623.55,1477.99 L624.55,1477.06 L625.55,1478.13 L626.55,1477.2 L627.55,1479.22 L628.56,1478.74 L629.56,1476.95 L630.56,1479.26 L631.56,1477.51 L632.56,1478.38 L633.56,1478.6 L634.57,1477.94 L635.57,1477.81 L636.57,1478.25 L637.57,1477.35 L638.57,1479.53 L639.58,1477.28 L640.58,1479.41 L641.58,1477.6 L642.58,1477.85 L643.58,1478.11 L644.59,1477.04 L645.59,1477.33 L646.59,1478.02 L647.59,1478.27 L648.59,1479.57 L649.6,1479.91 L650.6,1477.07 L651.6,1478.55" fill="none" stroke="#ff00ff" stroke-width="1.2"/>
<path d="M248.31,1642.07 V1544.5" fill="none" stroke="#ff00ff" stroke-width="3.6"/>
<path d="M490.29,1544.5 V1478.44" fill="none" stroke="#ff00ff" stroke-width="3.6"/>
<line x1="248.31" y1="1457" x2="248.31" y2="1459" stroke="#ff00ff" stroke-width="3.2" opacity="0.15"/>
<line x1="248.31" y1="1467.5" x2="248.31" y2="1476.5" stroke="#ff00ff" stroke-width="3.6"/>
<line x1="248.31" y1="1486.8" x2="248.31" y2="1495.8" stroke="#ff00ff" stroke-width="3.6"/>
<line x1="248.31" y1="1506.1" x2="248.31" y2="1515.1" stroke="#ff00ff" stroke-width="3.6"/>
<line x1="248.31" y1="1525.4" x2="248.31" y2="1534.4" stroke="#ff00ff" stroke-width="3.6"/>
<line x1="490.29" y1="1417" x2="490.29" y2="1426" stroke="#ff00ff" stroke-width="3.6"/>
<line x1="490.29" y1="1436.3" x2="490.29" y2="1445.3" stroke="#ff00ff" stroke-width="3.6"/>
<line x1="490.29" y1="1455.6" x2="490.29" y2="1464.6" stroke="#ff00ff" stroke-width="3.6"/>
<line x1="87" y1="1402" x2="651.6" y2="1402" stroke="#3a3a3a" stroke-width="1.3" stroke-linecap="square"/>
<line x1="651.6" y1="1402" x2="651.6" y2="1703.9" stroke="#2a2a2a" stroke-width="1.3" stroke-linecap="square"/>
<line x1="87" y1="1703.9" x2="651.6" y2="1703.9" stroke="#3a3a3a" stroke-width="1.3" stroke-linecap="square"/>
<line x1="87" y1="1402" x2="87" y2="1703.9" stroke="#888" stroke-width="1.3" stroke-linecap="square"/>
<line x1="87.6" y1="1617.4" x2="87.6" y2="1620.6" stroke="#b000b0" stroke-width="2.4" stroke-linecap="round" opacity="0.3"/>
<line x1="87.6" y1="1627.1" x2="87.6" y2="1630.3" stroke="#b000b0" stroke-width="2.4" stroke-linecap="round" opacity="0.6"/>
<line x1="87.6" y1="1634.7" x2="87.6" y2="1637.9" stroke="#b000b0" stroke-width="2.4" stroke-linecap="round" opacity="0.6"/>
<path d="M87.4,1703.9 V1642.07" fill="none" stroke="#b400c0" stroke-width="2.6" opacity="0.85"/>
<g transform="matrix(1.0000 0 0 1.0000 69.42 1710.47)"><text font-family='"Liberation Sans", sans-serif' font-weight="normal" font-size="19.1" fill="#000">0</text></g>
<g transform="matrix(1.0000 0 0 1.0000 53.49 1650.09)"><text font-family='"Liberation Sans", sans-serif' font-weight="normal" font-size="19.1" fill="#000">0.5</text></g>
<g transform="matrix(1.0000 0 0 1.0000 69.42 1589.71)"><text font-family='"Liberation Sans", sans-serif' font-weight="normal" font-size="19.1" fill="#000"> </text><path transform="matrix(0.00933 0 0 -0.00893 0 0)" d="M763 0H583V1147Q518 1085 412 1023Q306 961 222 930V1104Q373 1175 486 1276Q599 1377 646 1472H763Z" fill="#000"/></g>
<g transform="matrix(1.0000 0 0 1.0000 53.49 1529.24)"><text font-family='"Liberation Sans", sans-serif' font-weight="normal" font-size="19.1" fill="#000"> .5</text><path transform="matrix(0.00933 0 0 -0.00893 0 0)" d="M763 0H583V1147Q518 1085 412 1023Q306 961 222 930V1104Q373 1175 486 1276Q599 1377 646 1472H763Z" fill="#000"/></g>
<g transform="matrix(1.0000 0 0 1.0000 69.42 1469.05)"><text font-family='"Liberation Sans", sans-serif' font-weight="normal" font-size="19.1" fill="#000">2</text></g>
<g transform="matrix(1.0000 0 0 1.0000 53.49 1408.57)"><text font-family='"Liberation Sans", sans-serif' font-weight="normal" font-size="19.1" fill="#000">2.5</text></g>
<g transform="matrix(1.0000 0 0 1.0000 81.69 1726.84)"><text font-family='"Liberation Sans", sans-serif' font-weight="normal" font-size="19.1" fill="#000">0</text></g>
<g transform="matrix(1.0000 0 0 1.0000 162.35 1726.64)"><text font-family='"Liberation Sans", sans-serif' font-weight="normal" font-size="19.1" fill="#000">5</text></g>
<g transform="matrix(1.0000 0 0 1.0000 237.69 1726.84)"><text font-family='"Liberation Sans", sans-serif' font-weight="normal" font-size="19.1" fill="#000"> 0</text><path transform="matrix(0.00933 0 0 -0.00893 0 0)" d="M763 0H583V1147Q518 1085 412 1023Q306 961 222 930V1104Q373 1175 486 1276Q599 1377 646 1472H763Z" fill="#000"/></g>
<g transform="matrix(1.0000 0 0 1.0000 318.35 1726.64)"><text font-family='"Liberation Sans", sans-serif' font-weight="normal" font-size="19.1" fill="#000"> 5</text><path transform="matrix(0.00933 0 0 -0.00893 0 0)" d="M763 0H583V1147Q518 1085 412 1023Q306 961 222 930V1104Q373 1175 486 1276Q599 1377 646 1472H763Z" fill="#000"/></g>
<g transform="matrix(1.0000 0 0 1.0000 399.01 1726.84)"><text font-family='"Liberation Sans", sans-serif' font-weight="normal" font-size="19.1" fill="#000">20</text></g>
<g transform="matrix(1.0000 0 0 1.0000 479.66 1726.84)"><text font-family='"Liberation Sans", sans-serif' font-weight="normal" font-size="19.1" fill="#000">25</text></g>
<g transform="matrix(1.0000 0 0 1.0000 560.32 1726.84)"><text font-family='"Liberation Sans", sans-serif' font-weight="normal" font-size="19.1" fill="#000">30</text></g>
<g transform="matrix(1.0000 0 0 1.0000 640.98 1726.84)"><text font-family='"Liberation Sans", sans-serif' font-weight="normal" font-size="19.1" fill="#000">35</text></g>
<g transform="matrix(0.19963 0.00000 0.00000 0.18247 332.05 1751.12)"><text font-family='"Liberation Sans", sans-serif' font-weight="normal" font-size="100" fill="#000">Time (s)</text></g>
<g transform="matrix(0.00000 -0.19489 0.19096 0.00000 39.24 1611.44)"><text font-family='"Liberation Sans", sans-serif' font-weight="normal" font-size="100" fill="#000">Torque (N-m)</text></g>
<g transform="matrix(0.17991 0.00000 0.00000 0.19874 87.1 1392.8)"><text font-family='"Liberation Sans", sans-serif' font-weight="normal" font-size="100" fill="#000">x</text></g>
<g transform="matrix(0.20314 0.00000 0.00000 0.19209 101.8 1392.61)"><text font-family='"Liberation Sans", sans-serif' font-weight="normal" font-size="100" fill="#000"> 0</text><path transform="matrix(0.04883 0 0 -0.04674 0 0)" d="M763 0H583V1147Q518 1085 412 1023Q306 961 222 930V1104Q373 1175 486 1276Q599 1377 646 1472H763Z" fill="#000"/></g>
<g transform="matrix(0.11113 0.00000 0.00000 0.11483 125.34 1380.3)"><text font-family='"Liberation Sans", sans-serif' font-weight="normal" font-size="100" fill="#000">4</text></g>
<rect x="386.3" y="1618.9" width="238.8" height="60.4" fill="#fff" stroke="#333" stroke-width="1.3"/>
<line x1="401" y1="1634.2" x2="401" y2="1637.2" stroke="#ff00ff" stroke-width="1.7"/>
<line x1="406.65" y1="1634.2" x2="406.65" y2="1637.2" stroke="#ff00ff" stroke-width="1.7"/>
<line x1="412.3" y1="1634.2" x2="412.3" y2="1637.2" stroke="#ff00ff" stroke-width="1.7"/>
<line x1="417.95" y1="1634.2" x2="417.95" y2="1637.2" stroke="#ff00ff" stroke-width="1.7"/>
<line x1="423.6" y1="1634.2" x2="423.6" y2="1637.2" stroke="#ff00ff" stroke-width="1.7"/>
<line x1="429.25" y1="1634.2" x2="429.25" y2="1637.2" stroke="#ff00ff" stroke-width="1.7"/>
<line x1="434.9" y1="1634.2" x2="434.9" y2="1637.2" stroke="#ff00ff" stroke-width="1.7"/>
<line x1="440.55" y1="1634.2" x2="440.55" y2="1637.2" stroke="#ff00ff" stroke-width="1.7"/>
<line x1="446.2" y1="1634.2" x2="446.2" y2="1637.2" stroke="#ff00ff" stroke-width="1.7"/>
<line x1="451.85" y1="1634.2" x2="451.85" y2="1637.2" stroke="#ff00ff" stroke-width="1.7"/>
<line x1="457.5" y1="1634.2" x2="457.5" y2="1637.2" stroke="#ff00ff" stroke-width="1.7"/>
<line x1="398.4" y1="1662.6" x2="458.4" y2="1662.6" stroke="#ff00ff" stroke-width="4"/>
<g transform="matrix(0.19801 0.00000 0.00000 0.18023 464.49 1641.66)"><text font-family='"Liberation Sans", sans-serif' font-weight="normal" font-size="100" fill="#000">Cg without MPPT</text></g>
<g transform="matrix(0.19663 0.00000 0.00000 0.18345 464.5 1668.89)"><text font-family='"Liberation Sans", sans-serif' font-weight="normal" font-size="100" fill="#000">Cg with MPPT</text></g>
<line x1="82.3" y1="2174.5" x2="82.3" y2="2168.5" stroke="#2a2a2a" stroke-width="1.3"/>
<line x1="82.3" y1="1885.3" x2="82.3" y2="1891.3" stroke="#2a2a2a" stroke-width="1.3"/>
<line x1="166.47" y1="2174.5" x2="166.47" y2="2168.5" stroke="#2a2a2a" stroke-width="1.3"/>
<line x1="166.47" y1="1885.3" x2="166.47" y2="1891.3" stroke="#2a2a2a" stroke-width="1.3"/>
<line x1="250.64" y1="2174.5" x2="250.64" y2="2168.5" stroke="#2a2a2a" stroke-width="1.3"/>
<line x1="250.64" y1="1885.3" x2="250.64" y2="1891.3" stroke="#2a2a2a" stroke-width="1.3"/>
<line x1="334.81" y1="2174.5" x2="334.81" y2="2168.5" stroke="#2a2a2a" stroke-width="1.3"/>
<line x1="334.81" y1="1885.3" x2="334.81" y2="1891.3" stroke="#2a2a2a" stroke-width="1.3"/>
<line x1="418.99" y1="2174.5" x2="418.99" y2="2168.5" stroke="#2a2a2a" stroke-width="1.3"/>
<line x1="418.99" y1="1885.3" x2="418.99" y2="1891.3" stroke="#2a2a2a" stroke-width="1.3"/>
<line x1="503.16" y1="2174.5" x2="503.16" y2="2168.5" stroke="#2a2a2a" stroke-width="1.3"/>
<line x1="503.16" y1="1885.3" x2="503.16" y2="1891.3" stroke="#2a2a2a" stroke-width="1.3"/>
<line x1="587.33" y1="2174.5" x2="587.33" y2="2168.5" stroke="#2a2a2a" stroke-width="1.3"/>
<line x1="587.33" y1="1885.3" x2="587.33" y2="1891.3" stroke="#2a2a2a" stroke-width="1.3"/>
<line x1="671.5" y1="2174.5" x2="671.5" y2="2168.5" stroke="#2a2a2a" stroke-width="1.3"/>
<line x1="671.5" y1="1885.3" x2="671.5" y2="1891.3" stroke="#2a2a2a" stroke-width="1.3"/>
<line x1="82.3" y1="2174.5" x2="88.3" y2="2174.5" stroke="#2a2a2a" stroke-width="1.3"/>
<line x1="671.5" y1="2174.5" x2="665.5" y2="2174.5" stroke="#2a2a2a" stroke-width="1.3"/>
<line x1="82.3" y1="2102.2" x2="88.3" y2="2102.2" stroke="#2a2a2a" stroke-width="1.3"/>
<line x1="671.5" y1="2102.2" x2="665.5" y2="2102.2" stroke="#2a2a2a" stroke-width="1.3"/>
<line x1="82.3" y1="2029.9" x2="88.3" y2="2029.9" stroke="#2a2a2a" stroke-width="1.3"/>
<line x1="671.5" y1="2029.9" x2="665.5" y2="2029.9" stroke="#2a2a2a" stroke-width="1.3"/>
<line x1="82.3" y1="1957.6" x2="88.3" y2="1957.6" stroke="#d8d8d8" stroke-width="1.3"/>
<line x1="671.5" y1="1957.6" x2="665.5" y2="1957.6" stroke="#d8d8d8" stroke-width="1.3"/>
<line x1="82.3" y1="1885.3" x2="88.3" y2="1885.3" stroke="#2a2a2a" stroke-width="1.3"/>
<line x1="671.5" y1="1885.3" x2="665.5" y2="1885.3" stroke="#2a2a2a" stroke-width="1.3"/>
<path d="M82.3,2030.5 H671.5" fill="none" stroke="#00ffff" stroke-width="3.4"/>
<line x1="82.3" y1="1885.3" x2="671.5" y2="1885.3" stroke="#e0e0e0" stroke-width="1.3" stroke-linecap="square"/>
<line x1="671.5" y1="1885.3" x2="671.5" y2="2174.5" stroke="#2a2a2a" stroke-width="1.3" stroke-linecap="square"/>
<line x1="82.3" y1="2174.5" x2="671.5" y2="2174.5" stroke="#2a2a2a" stroke-width="1.3" stroke-linecap="square"/>
<line x1="82.3" y1="1885.3" x2="82.3" y2="2174.5" stroke="#2a2a2a" stroke-width="1.3" stroke-linecap="square"/>
<g transform="matrix(1.0700 0 0 1.0000 54.32 2181.79)"><text font-family='"Liberation Sans", sans-serif' font-weight="normal" font-size="21.2" fill="#000">- </text><path transform="matrix(0.01035 0 0 -0.00991 7.06 0)" d="M763 0H583V1147Q518 1085 412 1023Q306 961 222 930V1104Q373 1175 486 1276Q599 1377 646 1472H763Z" fill="#000"/></g>
<g transform="matrix(1.0700 0 0 1.0000 35.4 2109.5)"><text font-family='"Liberation Sans", sans-serif' font-weight="normal" font-size="21.2" fill="#000">-0.5</text></g>
<g transform="matrix(1.0700 0 0 1.0000 61.87 2037.2)"><text font-family='"Liberation Sans", sans-serif' font-weight="normal" font-size="21.2" fill="#000">0</text></g>
<g transform="matrix(1.0700 0 0 1.0000 42.95 1964.9)"><text font-family='"Liberation Sans", sans-serif' font-weight="normal" font-size="21.2" fill="#000">0.5</text></g>
<g transform="matrix(1.0700 0 0 1.0000 61.87 1892.59)"><text font-family='"Liberation Sans", sans-serif' font-weight="normal" font-size="21.2" fill="#000"> </text><path transform="matrix(0.01035 0 0 -0.00991 0 0)" d="M763 0H583V1147Q518 1085 412 1023Q306 961 222 930V1104Q373 1175 486 1276Q599 1377 646 1472H763Z" fill="#000"/></g>
<g transform="matrix(1.0700 0 0 1.0000 75.99 2199.6)"><text font-family='"Liberation Sans", sans-serif' font-weight="normal" font-size="21.2" fill="#000">0</text></g>
<g transform="matrix(1.0700 0 0 1.0000 160.16 2199.39)"><text font-family='"Liberation Sans", sans-serif' font-weight="normal" font-size="21.2" fill="#000">5</text></g>
<g transform="matrix(1.0700 0 0 1.0000 238.03 2199.6)"><text font-family='"Liberation Sans", sans-serif' font-weight="normal" font-size="21.2" fill="#000"> 0</text><path transform="matrix(0.01035 0 0 -0.00991 0 0)" d="M763 0H583V1147Q518 1085 412 1023Q306 961 222 930V1104Q373 1175 486 1276Q599 1377 646 1472H763Z" fill="#000"/></g>
<g transform="matrix(1.0700 0 0 1.0000 322.2 2199.39)"><text font-family='"Liberation Sans", sans-serif' font-weight="normal" font-size="21.2" fill="#000"> 5</text><path transform="matrix(0.01035 0 0 -0.00991 0 0)" d="M763 0H583V1147Q518 1085 412 1023Q306 961 222 930V1104Q373 1175 486 1276Q599 1377 646 1472H763Z" fill="#000"/></g>
<g transform="matrix(1.0700 0 0 1.0000 406.37 2199.6)"><text font-family='"Liberation Sans", sans-serif' font-weight="normal" font-size="21.2" fill="#000">20</text></g>
<g transform="matrix(1.0700 0 0 1.0000 490.54 2199.6)"><text font-family='"Liberation Sans", sans-serif' font-weight="normal" font-size="21.2" fill="#000">25</text></g>
<g transform="matrix(1.0700 0 0 1.0000 574.71 2199.6)"><text font-family='"Liberation Sans", sans-serif' font-weight="normal" font-size="21.2" fill="#000">30</text></g>
<g transform="matrix(1.0700 0 0 1.0000 658.88 2199.6)"><text font-family='"Liberation Sans", sans-serif' font-weight="normal" font-size="21.2" fill="#000">35</text></g>
<g transform="matrix(0.24459 0.00000 0.00000 0.19428 331.95 2224.28)"><text font-family='"Liberation Sans", sans-serif' font-weight="normal" font-size="100" fill="#000">Time (s)</text></g>
<g transform="matrix(0.00000 -0.20956 0.23173 0.00000 17.69 2125.32)"><text font-family='"Liberation Sans", sans-serif' font-weight="normal" font-size="100" fill="#000">Pitch angle (degree)</text></g>
<g transform="matrix(0.24919 0.00000 0.00000 0.23711 324.2 421.45)"><text font-family='"Liberation Serif", serif' font-weight="normal" font-size="100" fill="#000" stroke="#000" stroke-width="2.5">(</text></g>
<g transform="matrix(0.26087 0.00000 0.00000 0.23711 348.96 421.45)"><text font-family='"Liberation Serif", serif' font-weight="normal" font-size="100" fill="#000" stroke="#000" stroke-width="2.5">)</text></g>
<g transform="matrix(0.20818 0.00000 0.00000 0.20626 333.39 423.7)"><text font-family='"Liberation Sans", sans-serif' font-weight="bold" font-size="100" fill="#000">a</text></g>
<g transform="matrix(0.24919 0.00000 0.00000 0.22498 324.2 847.61)"><text font-family='"Liberation Serif", serif' font-weight="normal" font-size="100" fill="#000" stroke="#000" stroke-width="2.5">(</text></g>
<g transform="matrix(0.26087 0.00000 0.00000 0.22498 348.96 847.61)"><text font-family='"Liberation Serif", serif' font-weight="normal" font-size="100" fill="#000" stroke="#000" stroke-width="2.5">)</text></g>
<g transform="matrix(0.20837 0.00000 0.00000 0.21515 333.53 850.19)"><text font-family='"Liberation Sans", sans-serif' font-weight="bold" font-size="100" fill="#000">b</text></g>
<g transform="matrix(0.23361 0.00000 0.00000 0.23381 325.17 1319.52)"><text font-family='"Liberation Serif", serif' font-weight="normal" font-size="100" fill="#000" stroke="#000" stroke-width="2.5">(</text></g>
<g transform="matrix(0.24919 0.00000 0.00000 0.23381 348.4 1319.52)"><text font-family='"Liberation Serif", serif' font-weight="normal" font-size="100" fill="#000" stroke="#000" stroke-width="2.5">)</text></g>
<g transform="matrix(0.22141 0.00000 0.00000 0.20078 334.94 1321.7)"><text font-family='"Liberation Sans", sans-serif' font-weight="bold" font-size="100" fill="#000">c</text></g>
<g transform="matrix(0.24919 0.00000 0.00000 0.23050 324.2 1823.59)"><text font-family='"Liberation Serif", serif' font-weight="normal" font-size="100" fill="#000" stroke="#000" stroke-width="2.5">(</text></g>
<g transform="matrix(0.26087 0.00000 0.00000 0.23050 348.96 1823.59)"><text font-family='"Liberation Serif", serif' font-weight="normal" font-size="100" fill="#000" stroke="#000" stroke-width="2.5">)</text></g>
<g transform="matrix(0.21433 0.00000 0.00000 0.22604 333.72 1825.98)"><text font-family='"Liberation Sans", sans-serif' font-weight="bold" font-size="100" fill="#000">d</text></g>
<g transform="matrix(0.24919 0.00000 0.00000 0.23711 324.2 2296.65)"><text font-family='"Liberation Serif", serif' font-weight="normal" font-size="100" fill="#000" stroke="#000" stroke-width="2.5">(</text></g>
<g transform="matrix(0.25697 0.00000 0.00000 0.23711 349.07 2296.65)"><text font-family='"Liberation Serif", serif' font-weight="normal" font-size="100" fill="#000" stroke="#000" stroke-width="2.5">)</text></g>
<g transform="matrix(0.24228 0.00000 0.00000 0.20626 333.65 2298.3)"><text font-family='"Liberation Sans", sans-serif' font-weight="bold" font-size="100" fill="#000">e</text></g>
</g>
</svg>
</body></html>
